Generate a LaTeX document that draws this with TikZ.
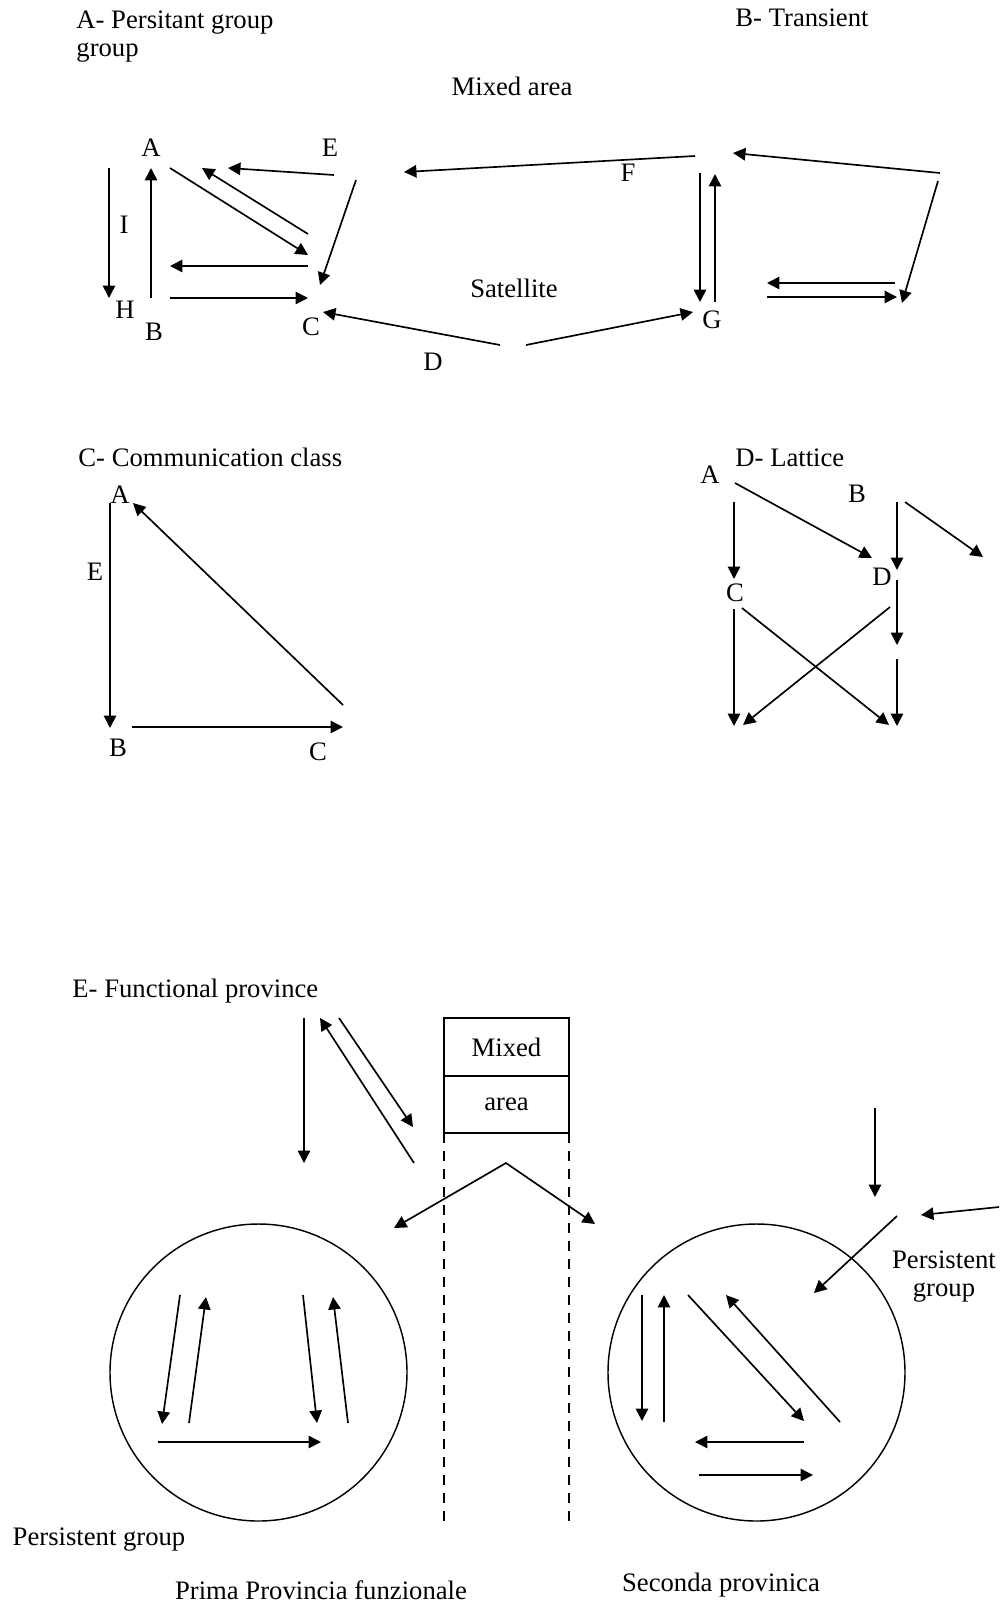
\documentclass[tikz,border=0pt]{standalone}
\usepackage{fontspec}
\setmainfont{Liberation Serif}
\usepackage{tikz}
\usetikzlibrary{arrows.meta,positioning}
\tikzset{
  tag/.style={
    inner sep=0pt,
    font=\fontsize{12}{12.6}\selectfont
  },
  heading/.style={
    tag,
    anchor=west,
    align=left
  },
  cella/.style={
    draw,
    line width=.8pt,
    minimum width=56.25pt,
    minimum height=25.8pt,
    inner sep=0pt,
    outer sep=0pt,
    font=\fontsize{12}{12.6}\selectfont
  },
  arrow/.style={
    -{Triangle[length=5.6pt,width=5.6pt]},
    line width=.75pt
  },
  twoway/.style={
    {Triangle[length=5.6pt,width=5.6pt]}-{Triangle[length=5.6pt,width=5.6pt]},
    line width=.75pt
  },
  ring/.style={line width=.65pt},
  guide/.style={line width=.65pt, dash pattern=on 4.5pt off 3.6pt}
}

\begin{document}
\begin{tikzpicture}[x=.45pt, y=-.45pt]
\useasboundingbox (0,0) rectangle (1002,1604);

\node[heading] (ta) at (76,37) {A- Persitant group\\group};
\node[heading] (tb) at (735,18) {B- Transient};
\node[tag] (mix) at (512,86) {Mixed area};
\node[tag] (sat) at (514,288) {Satellite};
\node[tag] (a1) at (151,148) {A};
\node[tag] (e1) at (330,148) {E};
\node[tag] (i1) at (124,225) {I};
\node[tag] (h1) at (125,310) {H};
\node[tag] (b1) at (154,332) {B};
\node[tag] (c1) at (311,327) {C};
\node[tag] (d1) at (433,362) {D};
\node[tag] (f1) at (628,173) {F};
\node[tag] (g1) at (712,320) {G};
\draw[arrow] (109,168) -- (109,298);
\draw[arrow] (151,298) -- (151,168);
\draw[arrow] (170,168) -- (308,255);
\draw[arrow] (308,234) -- (202,168);
\draw[arrow] (334,175) -- (228,168);
\draw[arrow] (356,180) -- (320,285);
\draw[arrow] (308,266) -- (170,266);
\draw[arrow] (170,298) -- (308,298);
\draw[arrow] (500,345) -- (323,312);
\draw[arrow] (695,156) -- (404,172);
\draw[arrow] (700,173) -- (700,302);
\draw[arrow] (715,302) -- (715,174);
\draw[arrow] (526,345) -- (693,312);
\draw[arrow] (940,173) -- (733,153);
\draw[arrow] (938,181) -- (902,303);
\draw[arrow] (895,283) -- (767,283);
\draw[arrow] (767,297) -- (897,297);

\node[heading] (tc) at (78,457) {C- Communication class};
\node[tag] (a2) at (120,495) {A};
\node[tag] (e2) at (95,572) {E};
\node[tag] (b2) at (118,748) {B};
\node[tag] (c2) at (318,752) {C};
\draw[arrow] (110,503) -- (110,728);
\draw[arrow] (132,727) -- (343,727);
\draw[arrow] (343,705) -- (133,503);

\node[heading] (td) at (735,458) {D- Lattice};
\node[tag] (a3) at (710,475) {A};
\node[tag] (b3) at (857,494) {B};
\node[tag] (c3) at (735,593) {C};
\node[tag] (d3) at (882,577) {D};
\draw[arrow] (734,502) -- (734,579);
\draw[arrow] (735,483) -- (872,558);
\draw[arrow] (897,502) -- (897,570);
\draw[arrow] (905,502) -- (983,557);
\draw[arrow] (897,580) -- (897,645);
\draw[arrow] (897,659) -- (897,726);
\draw[arrow] (734,609) -- (734,726);
\draw[arrow] (890,607) -- (743,725);
\draw[arrow] (742,608) -- (889,725);

\node[heading] (te) at (72,991) {E- Functional province};
\node[cella] (mx) at (506.5,1047) {Mixed};
\node[cella, below=0pt of mx] (ar) {area};
\draw[guide] (ar.south west) -- ++(0,388);
\draw[guide] (ar.south east) -- ++(0,388);
\draw[arrow] (304,1018) -- (304,1163);
\draw[arrow] (414,1163) -- (320,1018);
\draw[arrow] (339,1018) -- (413,1127);
\draw[twoway] (394,1228) -- (506,1163) -- (595,1224);

\draw[ring] (258.5,1372.5) circle[radius=148.5];
\draw[arrow] (180,1295) -- (162,1424);
\draw[arrow] (189,1423) -- (206,1297);
\draw[arrow] (303,1295) -- (317,1423);
\draw[arrow] (348,1423) -- (333,1297);
\draw[arrow] (158,1442) -- (321,1442);
\node[tag] (pg1) at (99,1540) {Persistent group};
\node[tag] (prima) at (321,1590) {Prima Provincia funzionale};

\draw[ring] (756.5,1372.5) circle[radius=148.5];
\draw[arrow] (642,1295) -- (642,1421);
\draw[arrow] (664,1422) -- (664,1295);
\draw[arrow] (688,1295) -- (804,1421);
\draw[arrow] (840,1422) -- (726,1295);
\draw[arrow] (804,1442) -- (695,1442);
\draw[arrow] (699,1475) -- (813,1475);
\draw[arrow] (875,1108) -- (875,1197);
\draw[arrow] (999,1207) -- (921,1215);
\draw[arrow] (897,1216) -- (814,1293);
\node[tag, align=center] (pg2) at (944,1277) {Persistent\\group};
\node[tag] (seconda) at (721,1585) {Seconda provinica};
\end{tikzpicture}
\end{document}
